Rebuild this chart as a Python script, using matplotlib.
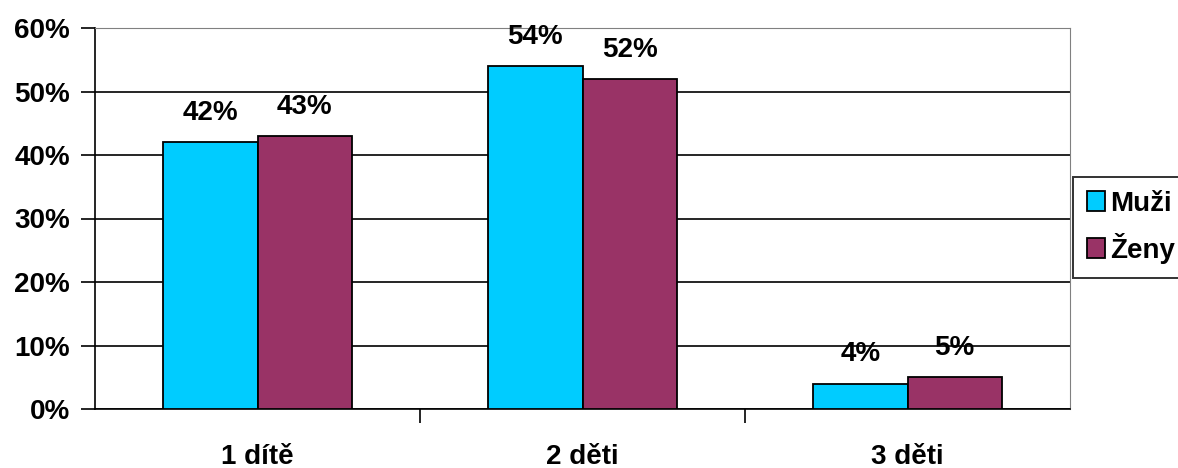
import numpy as np
import matplotlib.pyplot as plt
from matplotlib.ticker import MultipleLocator, FuncFormatter

categories = ["1 dítě", "2 děti", "3 děti"]
muzi = [42, 54, 4]
zeny = [43, 52, 5]
series_names = ["Muži", "Ženy"]

plt.rcParams['font.family'] = ['Liberation Sans', 'DejaVu Sans']
plt.rcParams['font.weight'] = 'bold'
FS = 20

fig = plt.figure(figsize=(11.78, 4.68), dpi=100)
ax = fig.add_axes([95 / 1178, 59 / 468, 975 / 1178, 381 / 468])

x = np.arange(len(categories))
w = 0.29
b1 = ax.bar(x - w / 2, muzi, w, color="#00CCFF", edgecolor="black", linewidth=1.3, label=series_names[0], zorder=3)
b2 = ax.bar(x + w / 2, zeny, w, color="#993366", edgecolor="black", linewidth=1.3, label=series_names[1], zorder=3)

# value labels sit ~22 px above the bar top
for bars, vals in [(b1, muzi), (b2, zeny)]:
    for r, v in zip(bars, vals):
        ax.annotate(f"{v}%", (r.get_x() + r.get_width() / 2, v), xytext=(0, 16),
                    textcoords="offset points", ha="center", va="baseline",
                    fontsize=FS, fontweight="bold", zorder=4)

ax.set_xlim(-0.5, 2.5)
ax.set_ylim(0, 60)
ax.yaxis.set_major_locator(MultipleLocator(10))
ax.yaxis.set_major_formatter(FuncFormatter(lambda v, p: f"{v:.0f}%"))
ax.grid(axis="y", color="black", linewidth=1.2, zorder=0)

ax.set_xticks([0.5, 1.5], minor=False)
ax.set_xticklabels([])
ax.set_xticks(x, minor=True)
ax.set_xticklabels(categories, minor=True, fontsize=FS, fontweight="bold")
ax.tick_params(axis="x", which="minor", length=0, pad=25)
ax.tick_params(axis="x", which="major", length=10, width=1.2, direction="out")
ax.tick_params(axis="y", length=10, width=1.2, direction="out", labelsize=FS, pad=8)
for lab in ax.get_yticklabels():
    lab.set_fontweight("bold")

ax.spines["left"].set_linewidth(1.2)
ax.spines["bottom"].set_linewidth(1.2)
ax.spines["top"].set_color("#808080")
ax.spines["right"].set_color("#808080")

leg = fig.legend(loc="upper left", bbox_to_anchor=(1073 / 1178, 1 - 177 / 468),
                 frameon=True, fancybox=False, edgecolor="black", fontsize=FS,
                 handlelength=0.65, handleheight=0.72, handletextpad=0.2,
                 borderpad=0.5, labelspacing=0.58, borderaxespad=0)
leg.get_frame().set_linewidth(1.4)
for t in leg.get_texts():
    t.set_fontweight("bold")

fig.savefig("out.png", dpi=100)
